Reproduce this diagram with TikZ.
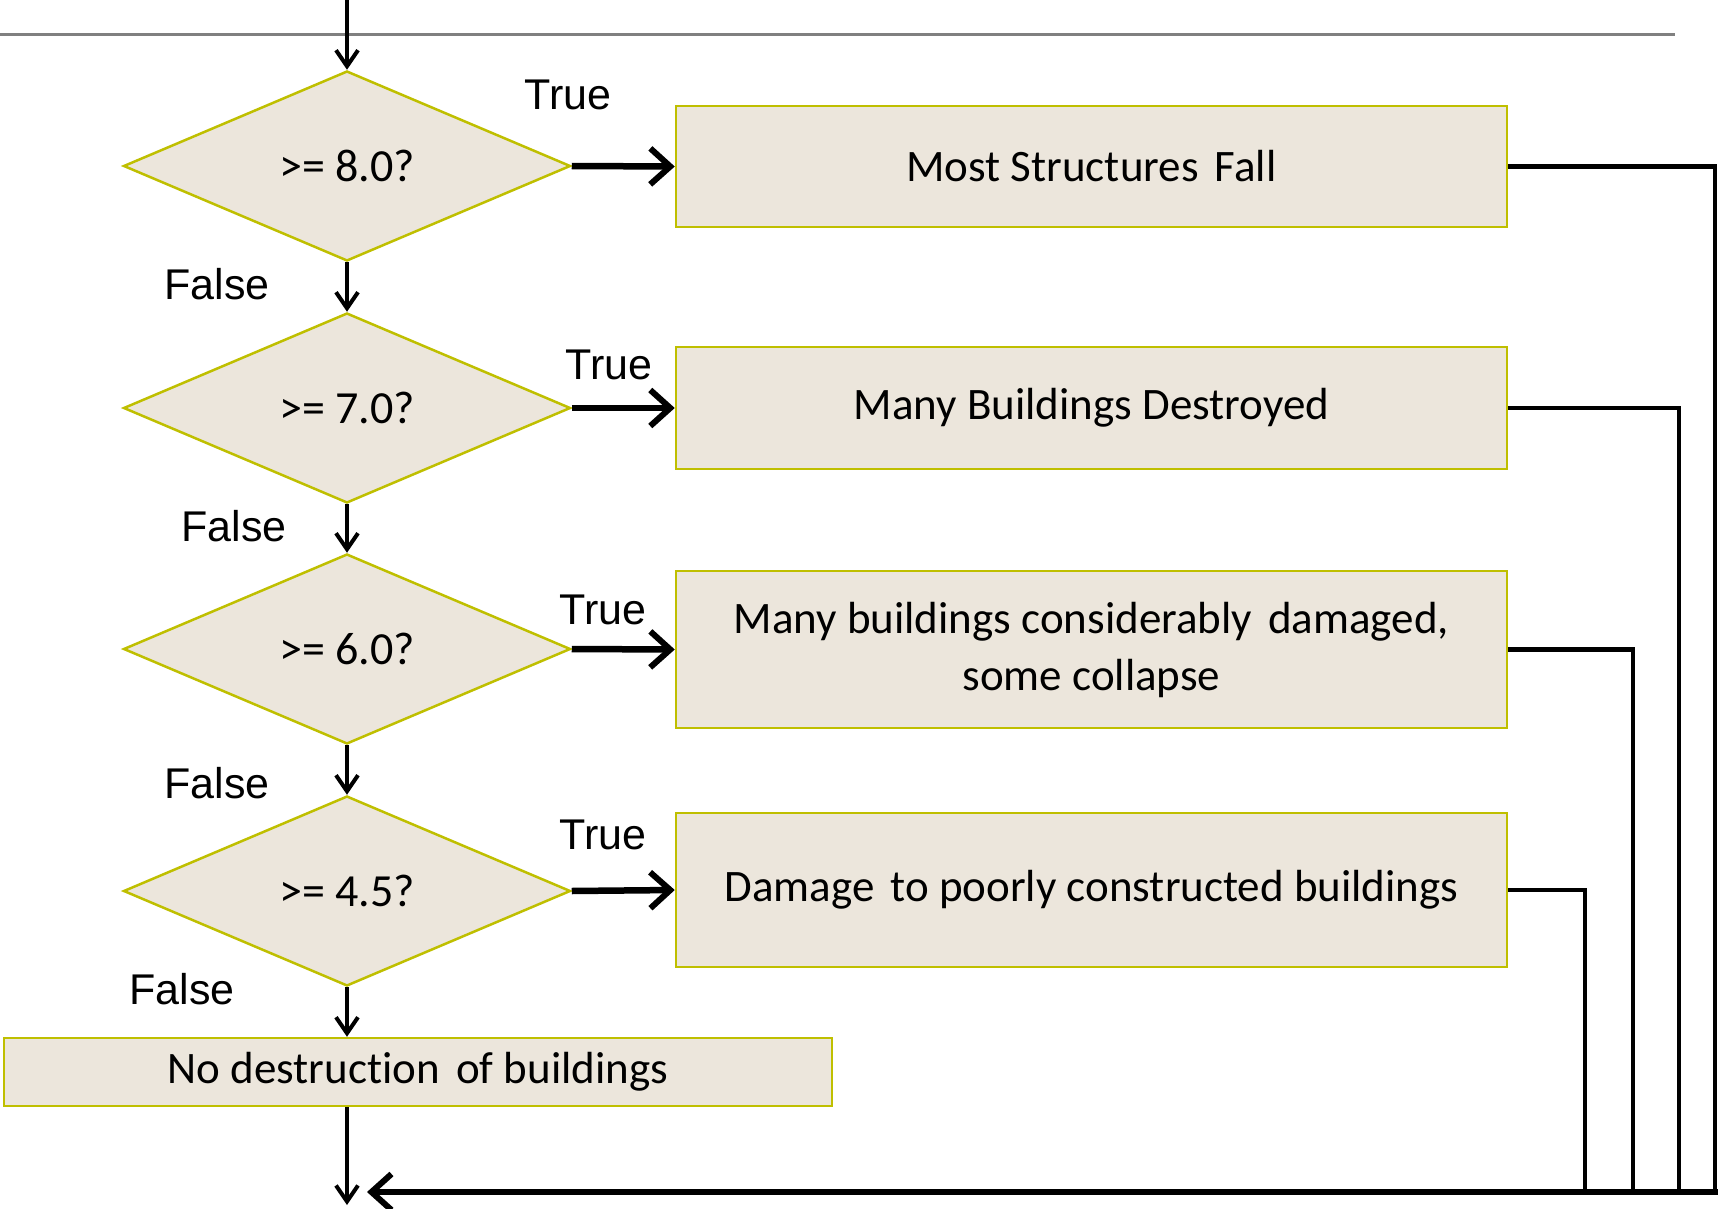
\documentclass[tikz,border=0pt]{standalone}
\usepackage{fontspec}
\setmainfont{Carlito}[Ligatures=NoCommon]
\newfontfamily\arialf{Liberation Sans}
\usetikzlibrary{shapes.geometric,arrows.meta}
\definecolor{boxfill}{HTML}{ECE6DC}
\definecolor{boxdraw}{HTML}{BFBF00}
\newcommand{\wsp}{\hspace{0.36em}}
\begin{document}
\begin{tikzpicture}[x=1pt,y=-1pt,
  decision/.style={diamond,draw=boxdraw,fill=boxfill,line width=2.5pt,inner sep=0pt,
    minimum width=447pt,minimum height=190pt,aspect=2.35,
    font=\fontsize{46}{52}\selectfont},
  outcome/.style={rectangle,draw=boxdraw,fill=boxfill,line width=2.5pt,inner sep=0pt,
    minimum width=831pt,align=center,font=\fontsize{45}{57}\selectfont},
  lbl/.style={font=\arialf\fontsize{43}{50}\selectfont,inner sep=0pt},
  downarr/.style={line width=4pt,-{Straight Barb[length=16pt,width=22pt,line width=4pt]}},
  truearr/.style={line width=6.5pt,-{Straight Barb[length=20pt,width=36pt,line width=6pt]}},
  conn/.style={line width=4.5pt}]
\useasboundingbox (0,0) rectangle (1718,1209);
\draw[gray,line width=3pt] (0,35) -- (1675,35);

\node[decision] (d1) at (347,166) {>= 8.0?};
\node[decision] (d2) at (347,408) {>= 7.0?};
\node[decision] (d3) at (347,649) {>= 6.0?};
\node[decision] (d4) at (347,891) {>= 4.5?};

\node[outcome,minimum height=121pt] (b1) at (1091.5,166.5) {Most Structures\wsp Fall};
\node[outcome,minimum height=122pt] (b2) at (1091.5,408) {Many Buildings Destroyed};
\node[outcome,minimum height=157pt] (b3) at (1091.5,649.5) {Many buildings considerably\wsp damaged,\\some collapse};
\node[outcome,minimum height=154pt] (b4) at (1091.5,890) {Damage\wsp to poorly constructed buildings};
\node[outcome,minimum width=828pt,minimum height=68pt] (b5) at (418,1072) {No destruction\wsp of buildings};

\node[lbl] (t1) at (568,95) {True};
\node[lbl] (f1) at (217,284) {False};
\node[lbl] (t2) at (609,365) {True};
\node[lbl] (f2) at (234,526) {False};
\node[lbl] (t3) at (603,610) {True};
\node[lbl] (f3) at (217,783) {False};
\node[lbl] (t4) at (603,835) {True};
\node[lbl] (f4) at (182,989) {False};

\coordinate (top) at (347,0);
\coordinate (bot) at (347,1205);
\coordinate (c1) at (1715,1192);
\coordinate (c2) at (1679,1192);
\coordinate (c3) at (1633,1192);
\coordinate (c4) at (1585,1192);
\coordinate (r) at (1718,1192);
\coordinate (l) at (367,1192);

\draw[downarr] (top) -- (d1.north);
\draw[downarr] (d1.south) -- (d2.north);
\draw[downarr] (d2.south) -- (d3.north);
\draw[downarr] (d3.south) -- (d4.north);
\draw[downarr] (d4.south) -- (d4.south |- b5.north);
\draw[downarr] (b5.south -| bot) -- (bot);

\draw[truearr] (d1.east) -- (b1.west);
\draw[truearr] (d2.east) -- (b2.west);
\draw[truearr] (d3.east) -- (b3.west);
\draw[truearr] (d4.east) -- (b4.west);

\draw[conn] (b1.east) -| (c1);
\draw[conn] (b2.east) -| (c2);
\draw[conn] (b3.east) -| (c3);
\draw[conn] (b4.east) -| (c4);
\draw[truearr] (r) -- (l);
\end{tikzpicture}
\end{document}
